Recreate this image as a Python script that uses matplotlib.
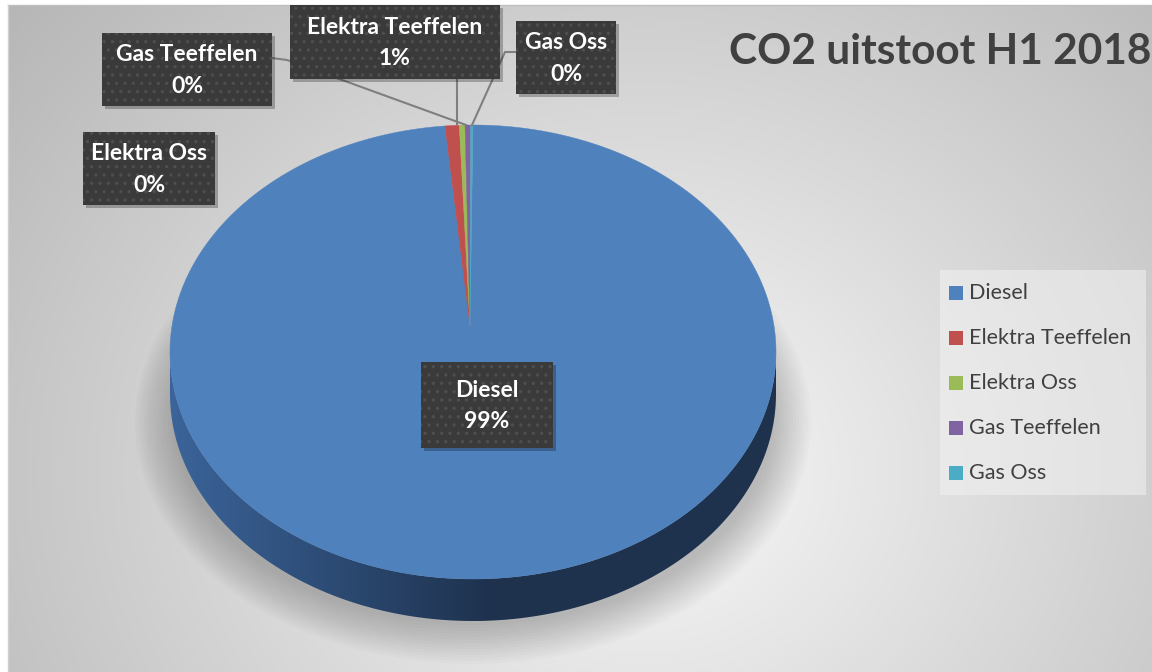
import numpy as np
import matplotlib.pyplot as plt
from matplotlib.patches import Polygon, Rectangle, Ellipse

# data (shares in %)
categories = ['Diesel', 'Elektra Teeffelen', 'Elektra Oss', 'Gas Teeffelen', 'Gas Oss']
values = [98.53, 0.75, 0.30, 0.30, 0.12]
colors = ['#4F81BD', '#C0504D', '#9BBB59', '#8064A2', '#4BACC6']
title = 'CO2 uitstoot H1 2018'

plt.rcParams['font.family'] = ['Lato', 'DejaVu Sans']
plt.rcParams['hatch.linewidth'] = 1.2

W, H = 1152, 672
fig = plt.figure(figsize=(W / 100, H / 100), dpi=100)
ax = fig.add_axes([0, 0, 1, 1])

# background gradient of the chart area
yy, xx = np.mgrid[0:H, 0:W]
d = np.hypot((xx - 640) / 640, (yy - 470) / 560)
shade = 0.975 - 0.20 * np.clip(d, 0, 1.3)
ax.imshow(np.dstack([shade] * 3), extent=(8, W, H, 5), zorder=0, aspect='auto')
ax.plot([8, W], [5, 5], color='#BFBFBF', lw=1, zorder=1)
ax.plot([8, 8], [5, H], color='#D0D0D0', lw=1, zorder=1)

# pie geometry (pixel space)
cx, cy, rx, ry, depth = 473, 352, 303, 227, 42
apex = (470, 326)

# soft shadow under the pie
for i in range(14):
    ax.add_patch(Ellipse((cx, cy + 70), 2 * (rx + 35 - i * 3), 2 * (ry + 15 - i * 3),
                         color='black', alpha=0.016, lw=0, zorder=1))

# side of the cylinder
phi = np.linspace(0, np.pi, 200)
top = np.column_stack([cx + rx * np.cos(phi), cy + ry * np.sin(phi)])
bot = np.column_stack([cx + rx * np.cos(phi[::-1]), cy + depth + ry * np.sin(phi[::-1])])
side = Polygon(np.vstack([top, bot]), closed=True, facecolor='none', edgecolor='none', zorder=2)
ax.add_patch(side)
gx = np.linspace(0, 1, 300)
t = np.clip((gx * W - 170) / 320, 0, 1)
c0 = np.array([0x3B, 0x64, 0x9A]) / 255
c1 = np.array([0x1E, 0x32, 0x4E]) / 255
grad = (c0[None, :] * (1 - t[:, None]) + c1[None, :] * t[:, None])[None, :, :]
im = ax.imshow(grad, extent=(0, W, H, 0), aspect='auto', zorder=2)
im.set_clip_path(side)

# top face wedges: clockwise from 12 o'clock
total = sum(values)
start = 0.0
for v, col in zip(values, colors):
    span = v / total * 2 * np.pi
    th = np.linspace(start, start + span, max(3, int(span * 120)))
    pts = np.column_stack([cx + rx * np.sin(th), cy - ry * np.cos(th)])
    ax.add_patch(Polygon(np.vstack([apex, pts]), closed=True, facecolor=col,
                         edgecolor=col, lw=0.3, zorder=3))
    start += span

# leader lines
lc = '#7F7F7F'
ax.plot([457, 457], [79, 124], color=lc, lw=1.5, zorder=4)
ax.plot([272, 287, 466], [58, 60, 125], color=lc, lw=1.5, zorder=4)
ax.plot([516, 505, 472], [52, 52, 125], color=lc, lw=1.5, zorder=4)

# data label boxes
boxes = {
    'Diesel': (421, 362, 132, 86),
    'Elektra Teeffelen': (290, 5, 210, 74),
    'Elektra Oss': (83, 132, 132, 73),
    'Gas Teeffelen': (102, 33, 170, 73),
    'Gas Oss': (516, 21, 100, 73),
}
for name, v in zip(categories, values):
    x, y, w, h = boxes[name]
    ax.add_patch(Rectangle((x + 3, y + 3), w, h, color='black', alpha=0.25, lw=0, zorder=5))
    ax.add_patch(Rectangle((x, y), w, h, facecolor='#3A3A3A', edgecolor='#4E4E4E',
                           hatch='..', lw=0, zorder=5))
    pct = round(v / total * 100)
    ax.text(x + w / 2, y + h / 2 + 1, f'{name}\n{pct}%', ha='center', va='center',
            color='white', fontsize=16.5, weight='bold', linespacing=1.6, zorder=6)

# legend
ax.add_patch(Rectangle((940, 270), 206, 225, facecolor='#F2F2F2', alpha=0.55, lw=0, zorder=4))
for i, (name, col) in enumerate(zip(categories, colors)):
    yc = 293 + i * 45
    ax.add_patch(Rectangle((949, yc - 7), 14, 14, color=col, lw=0, zorder=5))
    ax.text(969, yc, name, ha='left', va='center', fontsize=15.5, color='#404040', zorder=5)

ax.text(729, 52, title, ha='left', va='center', fontsize=30.5, weight='bold',
        color='#404040', zorder=5)

ax.set_xlim(0, W)
ax.set_ylim(H, 0)
ax.axis('off')
fig.savefig('out.png', dpi=100, facecolor='white')
